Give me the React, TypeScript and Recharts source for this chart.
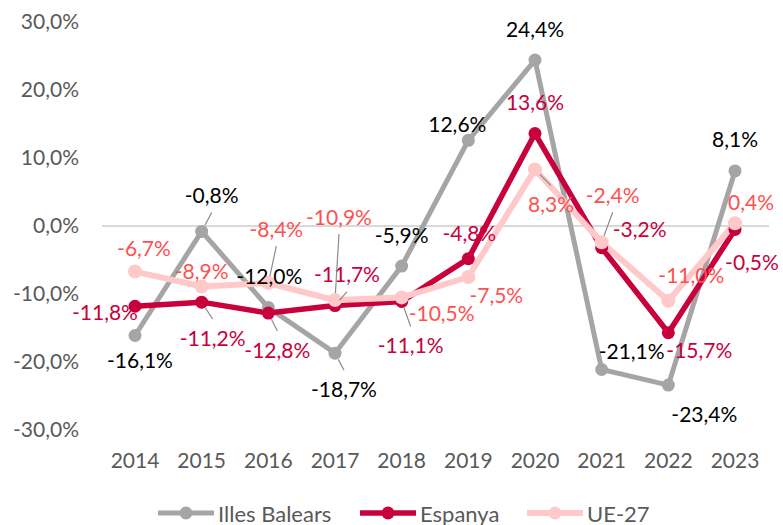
import React from 'react';
import { LineChart, Line, XAxis, YAxis, ReferenceLine, Legend } from 'recharts';

const years = ['2014', '2015', '2016', '2017', '2018', '2019', '2020', '2021', '2022', '2023'];
const illesBalears = [-16.1, -0.8, -12.0, -18.7, -5.9, 12.6, 24.4, -21.1, -23.4, 8.1];
const espanya = [-11.8, -11.2, -12.8, -11.7, -11.1, -4.8, 13.6, -3.2, -15.7, -0.5];
const ue27 = [-6.7, -8.9, -8.4, -10.9, -10.5, -7.5, 8.3, -2.4, -11.0, 0.4];
const yTicks = [-30, -20, -10, 0, 10, 20, 30];

const data = years.map((year, i) => ({
  year,
  ib: illesBalears[i],
  es: espanya[i],
  ue: ue27[i],
}));

const FONT = 'Lato, "Open Sans", sans-serif';
const FS = 21;

// label placement (offset of label centre from the point) and leader-line flags
const labelOffsets: Record<string, [number, number][]> = {
  ib: [[5, 24], [10, -37], [1, -32], [9, 35], [0, -32], [-11, -17], [0, -32], [30, -19], [36, 28], [0, -32]],
  es: [[-30, 5], [11, 35], [9, 36], [12, -32], [9, 43], [1, -26], [0, -32], [38, -19], [31, 17], [17, 32]],
  ue: [[9, -24], [0, -16], [8, -55], [4, -84], [40, 15], [28, 17], [16, 34], [11, -48], [23, -26], [16, -22]],
};
const leaders: Record<string, number[]> = {
  ib: [0, 1, 0, 1, 0, 0, 0, 0, 0, 0],
  es: [0, 1, 1, 1, 1, 0, 0, 0, 0, 0],
  ue: [0, 0, 1, 1, 0, 0, 1, 1, 0, 0],
};

const fmt = (v: number) => v.toFixed(1).replace('.', ',') + '%';

const makeLabel = (key: string, color: string) => (props: any) => {
  const { x, y, index, value } = props;
  const [dx, dy] = labelOffsets[key][index];
  const lx = x + dx;
  const ly = y + dy;
  let leader = null;
  if (leaders[key][index]) {
    const ex = lx;
    const ey = ly + (dy < 0 ? 18 : -18);
    const vx = ex - x;
    const vy = ey - y;
    const len = Math.sqrt(vx * vx + vy * vy) || 1;
    leader = (
      <line x1={x + (vx / len) * 7} y1={y + (vy / len) * 7} x2={ex} y2={ey} stroke="#8C8C8C" strokeWidth={1.2} />
    );
  }
  return (
    <g key={`${key}-${index}`}>
      {leader}
      <text x={lx} y={ly} textAnchor="middle" dominantBaseline="central" fill={color} fontSize={FS} fontFamily={FONT}>
        {fmt(value)}
      </text>
    </g>
  );
};

const legendItems = [
  { name: 'Illes Balears', color: '#A5A5A5', left: 158, w: 5 },
  { name: 'Espanya', color: '#C8003C', left: 360, w: 5.5 },
  { name: 'UE-27', color: '#FFC9C9', left: 527, w: 6 },
];

const CustomLegend = () => (
  <div style={{ position: 'relative', height: 24, width: 783 }}>
    {legendItems.map((it) => (
      <div key={it.name} style={{ position: 'absolute', left: it.left, top: 0, height: 24, display: 'flex', alignItems: 'center' }}>
        <svg width={56} height={20}>
          <line x1={1} y1={10} x2={55} y2={10} stroke={it.color} strokeWidth={it.w} strokeLinecap="round" />
          <circle cx={28} cy={10} r={6.5} fill={it.color} />
        </svg>
        <span style={{ fontFamily: FONT, fontSize: 22, color: '#595959', marginLeft: 4 }}>{it.name}</span>
      </div>
    ))}
  </div>
);

export default function App() {
  return (
    <div style={{ position: 'absolute', left: 0, top: 0, background: '#fff' }}>
      <LineChart width={783} height={525} data={data} margin={{ top: 22, right: 14, left: 0, bottom: 0 }}>
        <XAxis
          dataKey="year"
          tickLine={false}
          axisLine={false}
          height={71}
          tickMargin={17}
          padding={{ left: 33, right: 34 }}
          tick={{ fill: '#595959', fontSize: FS, fontFamily: FONT }}
        />
        <YAxis
          domain={[-30, 30]}
          ticks={yTicks}
          width={102}
          tickLine={false}
          axisLine={false}
          tickMargin={17}
          tickFormatter={fmt}
          tick={{ fill: '#595959', fontSize: FS, fontFamily: FONT }}
        />
        <ReferenceLine y={0} stroke="#D9D9D9" strokeWidth={2} />
        <Legend verticalAlign="bottom" content={<CustomLegend />} />
        <Line
          dataKey="ib"
          name="Illes Balears"
          stroke="#A5A5A5"
          strokeWidth={5}
          dot={{ r: 6.5, fill: '#A5A5A5', stroke: 'none' }}
          activeDot={false}
          isAnimationActive={false}
          label={makeLabel('ib', '#000000')}
        />
        <Line
          dataKey="es"
          name="Espanya"
          stroke="#C8003C"
          strokeWidth={5.5}
          dot={{ r: 6.5, fill: '#C8003C', stroke: 'none' }}
          activeDot={false}
          isAnimationActive={false}
          label={makeLabel('es', '#C8003C')}
        />
        <Line
          dataKey="ue"
          name="UE-27"
          stroke="#FFC9C9"
          strokeWidth={6}
          dot={{ r: 7, fill: '#FFC9C9', stroke: 'none' }}
          activeDot={false}
          isAnimationActive={false}
          label={makeLabel('ue', '#FF5050')}
        />
      </LineChart>
    </div>
  );
}
